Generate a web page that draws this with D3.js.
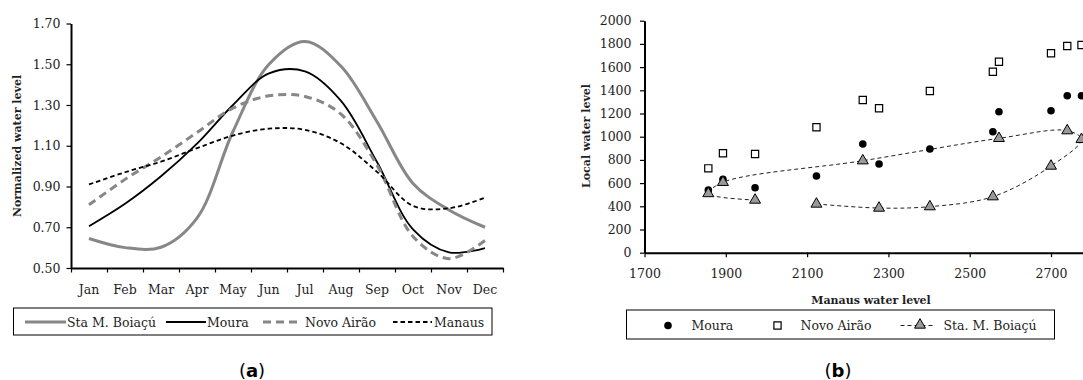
<!DOCTYPE html>
<html>
<head>
<meta charset="utf-8">
<script src="https://cdn.jsdelivr.net/npm/d3@7"></script>
<style>
  body { margin: 0; background: #fff; }
  svg { display: block; }
</style>
</head>
<body>
<svg id="chart" width="1083" height="380"></svg>
<script>
// ---- (a) normalized monthly water level ----
const months = ["Jan", "Feb", "Mar", "Apr", "May", "Jun", "Jul", "Aug", "Sep", "Oct", "Nov", "Dec"];
const staBoiacuNorm = [0.645, 0.600, 0.602, 0.745, 1.170, 1.500, 1.612, 1.490, 1.218, 0.915, 0.785, 0.700];
const mouraNorm     = [0.705, 0.815, 0.950, 1.110, 1.300, 1.455, 1.465, 1.320, 1.020, 0.690, 0.577, 0.598];
const novoAiraoNorm = [0.810, 0.935, 1.045, 1.165, 1.285, 1.345, 1.342, 1.255, 1.005, 0.655, 0.546, 0.635];
const manausNorm    = [0.910, 0.970, 1.022, 1.088, 1.150, 1.184, 1.178, 1.112, 0.972, 0.805, 0.793, 0.845];
const yTicksA = [0.5, 0.7, 0.9, 1.1, 1.3, 1.5, 1.7];

// ---- (b) local level vs Manaus level, one value per month (Jan..Dec) ----
const manausLevel    = [2123, 2277, 2402, 2557, 2700, 2775, 2740, 2572, 2237, 1893, 1857, 1972];
const mouraLevel     = [661, 765, 894, 1043, 1224, 1353, 1353, 1215, 937, 633, 540, 560];
const novoAiraoLevel = [1081, 1245, 1394, 1560, 1719, 1790, 1782, 1646, 1316, 857, 727, 851];
const staBoiacuLevel = [420, 385, 397, 483, 747, 977, 1052, 986, 793, 607, 510, 454];
const xTicksB = [1700, 1900, 2100, 2300, 2500, 2700];
const yTicksB = [0, 200, 400, 600, 800, 1000, 1200, 1400, 1600, 1800, 2000];

const SERIF = "'DejaVu Serif', 'Liberation Serif', serif";
const SANS = "'DejaVu Sans', 'Noto Sans', sans-serif";
const TEXT = "#1e1e1e";
const GREY = "#878787";

const svg = d3.select("#chart");

function styleAxis(g, fontSize) {
  g.selectAll(".domain").attr("stroke", "#000").attr("stroke-width", 2);
  g.selectAll(".tick line").attr("stroke", "#000").attr("stroke-width", 1.2);
  g.selectAll(".tick text").attr("fill", TEXT)
    .style("font-family", SERIF).style("font-size", fontSize + "px");
}

/* ===================== panel (a) ===================== */
const xA = d3.scaleBand().domain(months).range([71, 503]);
const xAedge = d3.scaleLinear().domain([0, months.length]).range([71, 503]);
const yA = d3.scaleLinear().domain([0.5, 1.7]).range([268, 23.5]);

const gA = svg.append("g");

gA.append("g")
  .attr("transform", "translate(71,0)")
  .call(d3.axisLeft(yA).tickValues(yTicksA).tickFormat(d3.format(".2f"))
        .tickSize(4.5).tickPadding(6).tickSizeOuter(0))
  .call(g => styleAxis(g, 12.5));

// tick marks between months
gA.append("g")
  .attr("transform", "translate(0,268)")
  .call(d3.axisBottom(xAedge).tickValues(d3.range(0, months.length + 1))
        .tickFormat("").tickSize(4.5).tickSizeOuter(0))
  .call(g => styleAxis(g, 12.5));

// month labels centred in each band
gA.append("g")
  .attr("transform", "translate(0,268)")
  .call(d3.axisBottom(xA).tickSize(0).tickPadding(17))
  .call(g => { styleAxis(g, 12.5); g.select(".domain").remove(); });

gA.append("text")
  .attr("transform", "translate(21,146) rotate(-90)")
  .attr("text-anchor", "middle")
  .style("font-family", SERIF).style("font-size", "11px").style("font-weight", "bold")
  .attr("fill", TEXT)
  .text("Normalized water level");

const lineA = d3.line()
  .x((d, i) => xA(months[i]) + xA.bandwidth() / 2)
  .y(d => yA(d))
  .curve(d3.curveCatmullRom.alpha(0.5));

const seriesA = [
  { name: "Sta M. Boiaçú", values: staBoiacuNorm, color: GREY, width: 3, dash: null },
  { name: "Moura", values: mouraNorm, color: "#000", width: 1.8, dash: null },
  { name: "Novo Airão", values: novoAiraoNorm, color: GREY, width: 3, dash: "8,5" },
  { name: "Manaus", values: manausNorm, color: "#000", width: 1.8, dash: "4.5,3" }
];

gA.selectAll("path.series")
  .data(seriesA)
  .join("path")
  .attr("class", "series")
  .attr("fill", "none")
  .attr("stroke", d => d.color)
  .attr("stroke-width", d => d.width)
  .attr("stroke-dasharray", d => d.dash)
  .attr("d", d => lineA(d.values));

// legend (a)
const legA = gA.append("g");
legA.append("rect").attr("x", 13.5).attr("y", 308).attr("width", 478.5).attr("height", 27)
  .attr("fill", "#fff").attr("stroke", "#000").attr("stroke-width", 1);
const legAPos = [
  { x1: 25, x2: 66, tx: 67 },
  { x1: 166, x2: 206, tx: 207 },
  { x1: 263, x2: 299, tx: 305 },
  { x1: 393, x2: 432, tx: 434 }
];
seriesA.forEach((s, i) => {
  const p = legAPos[i];
  legA.append("line").attr("x1", p.x1).attr("x2", p.x2).attr("y1", 322).attr("y2", 322)
    .attr("stroke", s.color).attr("stroke-width", s.width).attr("stroke-dasharray", s.dash);
  legA.append("text").attr("x", p.tx).attr("y", 326.5)
    .style("font-family", SERIF).style("font-size", "12.5px").attr("fill", TEXT)
    .text(s.name);
});

svg.append("text").attr("x", 252).attr("y", 377).attr("text-anchor", "middle")
  .style("font-family", SANS).style("font-size", "18px").attr("fill", "#000")
  .call(t => {
    t.append("tspan").text("(");
    t.append("tspan").style("font-weight", "bold").text("a");
    t.append("tspan").text(")");
  });

/* ===================== panel (b) ===================== */
const xB = d3.scaleLinear().domain([1700, 2900]).range([644.5, 644.5 + 6 * 81.3]);
const yB = d3.scaleLinear().domain([0, 2000]).range([252.7, 20.7]);

const gB = svg.append("g");

gB.append("g")
  .attr("transform", "translate(644.5,0)")
  .call(d3.axisLeft(yB).tickValues(yTicksB).tickFormat(d3.format("d"))
        .tickSize(4.5).tickPadding(8.5).tickSizeOuter(0))
  .call(g => styleAxis(g, 12.5));

gB.append("g")
  .attr("transform", "translate(0,252.7)")
  .call(d3.axisBottom(xB).tickValues(xTicksB).tickFormat(d3.format("d"))
        .tickSize(4.5).tickPadding(12).tickSizeOuter(0))
  .call(g => styleAxis(g, 12.5));

gB.append("text")
  .attr("x", 871).attr("y", 303.5).attr("text-anchor", "middle")
  .style("font-family", SERIF).style("font-size", "11px").style("font-weight", "bold")
  .attr("fill", TEXT)
  .text("Manaus water level");

gB.append("text")
  .attr("transform", "translate(590,136) rotate(-90)")
  .attr("text-anchor", "middle")
  .style("font-family", SERIF).style("font-size", "11px").style("font-weight", "bold")
  .attr("fill", TEXT)
  .text("Local water level");

// Sta. M. Boiaçú: smoothed dashed path through the monthly points
const boiacuPts = manausLevel.map((m, i) => [m, staBoiacuLevel[i]]);
gB.append("path")
  .attr("fill", "none").attr("stroke", "#222").attr("stroke-width", 1)
  .attr("stroke-dasharray", "4,3")
  .attr("d", d3.line().x(d => xB(d[0])).y(d => yB(d[1]))
    .curve(d3.curveCatmullRom.alpha(0.5))(boiacuPts));

const triangle = d3.symbol().type(d3.symbolTriangle).size(52);
const square = d3.symbol().type(d3.symbolSquare).size(52);

gB.selectAll("path.nair")
  .data(manausLevel.map((m, i) => [m, novoAiraoLevel[i]]))
  .join("path").attr("class", "nair")
  .attr("transform", d => `translate(${xB(d[0])},${yB(d[1])})`)
  .attr("d", square).attr("fill", "#fff").attr("stroke", "#000").attr("stroke-width", 1.2);

gB.selectAll("circle.moura")
  .data(manausLevel.map((m, i) => [m, mouraLevel[i]]))
  .join("circle").attr("class", "moura")
  .attr("cx", d => xB(d[0])).attr("cy", d => yB(d[1])).attr("r", 3.8)
  .attr("fill", "#000");

gB.selectAll("path.boiacu")
  .data(boiacuPts)
  .join("path").attr("class", "boiacu")
  .attr("transform", d => `translate(${xB(d[0])},${yB(d[1])})`)
  .attr("d", triangle).attr("fill", "#9a9a9a").attr("stroke", "#000").attr("stroke-width", 1);

// legend (b)
const legB = gB.append("g");
legB.append("rect").attr("x", 626.5).attr("y", 310).attr("width", 428).attr("height", 29)
  .attr("fill", "#fff").attr("stroke", "#000").attr("stroke-width", 1);
legB.append("circle").attr("cx", 668).attr("cy", 325.5).attr("r", 3.8).attr("fill", "#000");
legB.append("text").attr("x", 691.5).attr("y", 330)
  .style("font-family", SERIF).style("font-size", "12.5px").attr("fill", TEXT).text("Moura");
legB.append("path").attr("transform", "translate(777.5,325.5)").attr("d", square)
  .attr("fill", "#fff").attr("stroke", "#000").attr("stroke-width", 1.2);
legB.append("text").attr("x", 800.5).attr("y", 330)
  .style("font-family", SERIF).style("font-size", "12.5px").attr("fill", TEXT).text("Novo Airão");
legB.append("line").attr("x1", 900.5).attr("x2", 935).attr("y1", 325.5).attr("y2", 325.5)
  .attr("stroke", "#222").attr("stroke-width", 1).attr("stroke-dasharray", "4,3");
legB.append("path").attr("transform", "translate(920,325)").attr("d", triangle)
  .attr("fill", "#9a9a9a").attr("stroke", "#000").attr("stroke-width", 1);
legB.append("text").attr("x", 943.5).attr("y", 330)
  .style("font-family", SERIF).style("font-size", "12.5px").attr("fill", TEXT).text("Sta. M. Boiaçú");

svg.append("text").attr("x", 838).attr("y", 377).attr("text-anchor", "middle")
  .style("font-family", SANS).style("font-size", "18px").attr("fill", "#000")
  .call(t => {
    t.append("tspan").text("(");
    t.append("tspan").style("font-weight", "bold").text("b");
    t.append("tspan").text(")");
  });
</script>
</body>
</html>
